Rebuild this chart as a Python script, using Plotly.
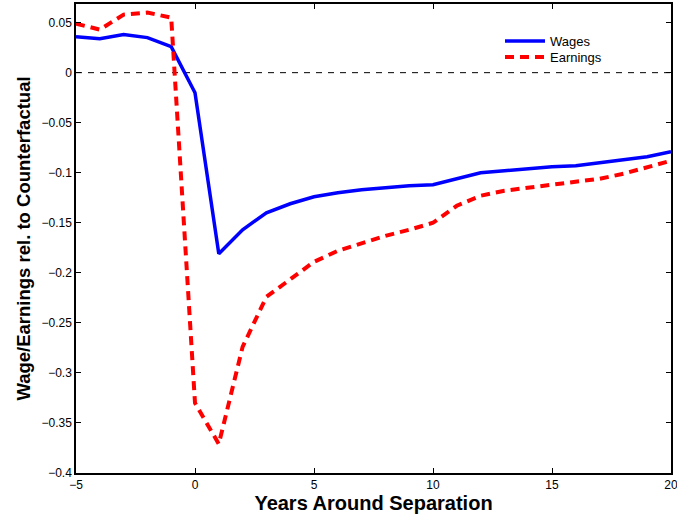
import plotly.graph_objects as go

# Years relative to job separation
years = list(range(-5, 21))

# Wage and earnings effects relative to counterfactual
wages = [0.036, 0.034, 0.038, 0.035, 0.026, -0.020, -0.181, -0.157, -0.140, -0.131,
         -0.124, -0.120, -0.117, -0.115, -0.113, -0.112, -0.106, -0.100, -0.098, -0.096,
         -0.094, -0.093, -0.090, -0.087, -0.084, -0.079]
earnings = [0.049, 0.043, 0.058, 0.060, 0.055, -0.330, -0.371, -0.274, -0.224, -0.207,
            -0.189, -0.178, -0.170, -0.163, -0.157, -0.150, -0.133, -0.123, -0.118, -0.115,
            -0.112, -0.110, -0.106, -0.101, -0.095, -0.088]

x_ticks = [-5, 0, 5, 10, 15, 20]
y_ticks = [0.05, 0, -0.05, -0.1, -0.15, -0.2, -0.25, -0.3, -0.35, -0.4]
y_ticktext = ["0.05", "0", "\u22120.05", "\u22120.1", "\u22120.15", "\u22120.2",
              "\u22120.25", "\u22120.3", "\u22120.35", "\u22120.4"]

font_family = "Liberation Sans, Arial, Helvetica, sans-serif"

fig = go.Figure()

# Zero reference line
fig.add_trace(go.Scatter(
    x=[-5, 20], y=[0, 0], mode="lines",
    line=dict(color="black", width=1, dash="6px,6px"),
    showlegend=False, hoverinfo="skip"))

fig.add_trace(go.Scatter(
    x=years, y=wages, mode="lines", name="Wages", legend="legend",
    line=dict(color="#0000ff", width=3.5)))

fig.add_trace(go.Scatter(
    x=years, y=earnings, mode="lines", name="Earnings", legend="legend2",
    line=dict(color="#ff0000", width=4, dash="9px,6px")))

axis_common = dict(
    showline=True, linecolor="black", linewidth=1.5, mirror="ticks",
    ticks="inside", ticklen=5, tickcolor="black", showgrid=False, zeroline=False,
    automargin=False, ticklabeloverflow="allow",
    tickfont=dict(family=font_family, size=12, color="black"))

fig.update_xaxes(
    range=[-5, 20], tickvals=x_ticks,
    title=dict(text="<b>Years Around Separation</b>",
               font=dict(family=font_family, size=20, color="black"), standoff=2),
    **axis_common)

fig.update_yaxes(
    range=[-0.4, 0.0686], tickvals=y_ticks, ticktext=y_ticktext,
    title=dict(text="<b>Wage/Earnings rel. to Counterfactual</b>",
               font=dict(family=font_family, size=18.5, color="black"), standoff=6),
    **axis_common)

legend_common = dict(
    xanchor="left", yanchor="top", bgcolor="rgba(0,0,0,0)", borderwidth=0,
    font=dict(family=font_family, size=13, color="black"), itemwidth=40)

fig.update_layout(
    width=677, height=516,
    margin=dict(l=76, r=6, t=4, b=43),
    paper_bgcolor="white", plot_bgcolor="white",
    font=dict(family=font_family, color="black"),
    legend=dict(x=0.7126, y=0.953, **legend_common),
    legend2=dict(x=0.7126, y=0.919, **legend_common),
)

fig.write_html("out.html")
